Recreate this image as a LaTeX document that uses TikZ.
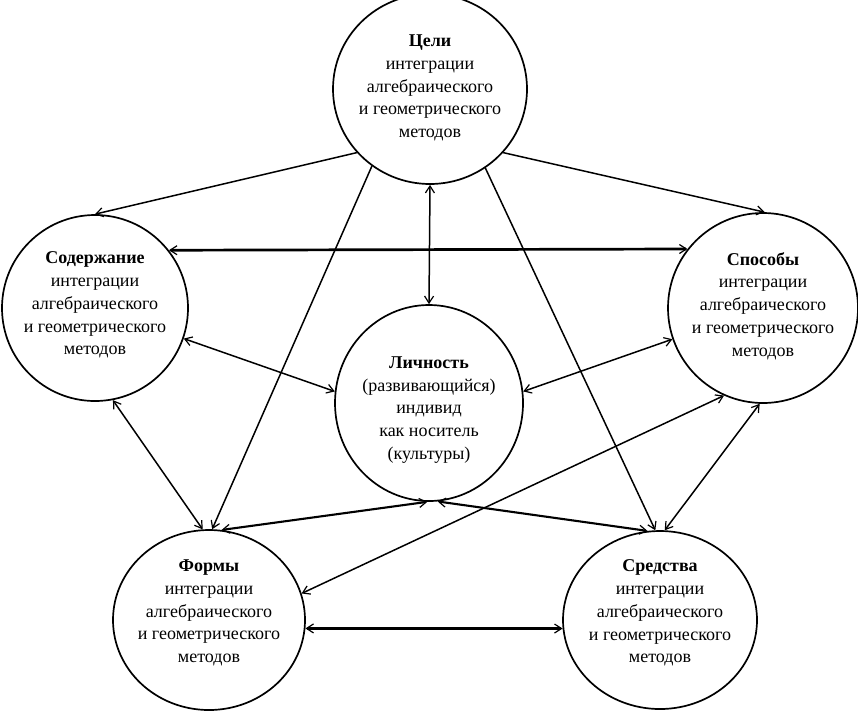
\documentclass[tikz,border=0pt]{standalone}
\usepackage{fontspec}
\setmainfont{Liberation Serif}
\usetikzlibrary{shapes.geometric,arrows.meta}
\begin{document}
\begin{tikzpicture}[x=1pt,y=-1pt,
  ring/.style={draw, ellipse, line width=1.7pt, inner sep=0pt},
  lbl/.style={align=center, inner sep=0pt, font=\fontsize{18}{22.8}\selectfont},
  barb/.tip={Straight Barb[length=7pt,width=9pt,line width=1.2pt]},
  one/.style={line width=1.5pt, -barb},
  two/.style={line width=1.5pt, barb-barb},
  heavy/.style={line width=2.7pt, barb-barb}]
\useasboundingbox (0,0) rectangle (858,716);
\node[ring, minimum width=194pt, minimum height=190pt] (T) at (430,89) {};
\node[ring, minimum width=186pt, minimum height=186pt] (L) at (95,308) {};
\node[ring, minimum width=190pt, minimum height=190pt] (R) at (763,308) {};
\node[ring, minimum width=188pt, minimum height=196pt] (C) at (429,403) {};
\node[ring, minimum width=192pt, minimum height=180pt] (BL) at (209,620) {};
\node[ring, minimum width=194pt, minimum height=178pt] (BR) at (660,620) {};
\node[lbl] (Tt) at (430,88) {\textbf{Цели}\\интеграции\\алгебраического\\и геометрического\\методов};
\node[lbl] (Lt) at (95,305) {\textbf{Содержание}\\интеграции\\алгебраического\\и геометрического\\методов};
\node[lbl] (Rt) at (763,306) {\textbf{Способы}\\интеграции\\алгебраического\\и геометрического\\методов};
\node[lbl] (Ct) at (429,410) {\textbf{Личность}\\(развивающийся)\\индивид\\как носитель\\(культуры)};
\node[lbl] (BLt) at (209,613) {\textbf{Формы}\\интеграции\\алгебраического\\и геометрического\\методов};
\node[lbl] (BRt) at (660,613) {\textbf{Средства}\\интеграции\\алгебраического\\и геометрического\\методов};
% connectors
\draw[one] (T.221) -- (L.90);
\draw[one] (T.319) -- (R.89);
\draw[two] (T.270) -- (C.90);
\draw[one] (T.233) -- (BL.88);
\draw[one] (T.305) -- (BR.93);
\draw[heavy] (L.38.6) -- (R.142.4);
\draw[two] (L.341) -- (C.173);
\draw[two] (R.199) -- (C.7);
\draw[two] (L.281) -- (BL.94);
\draw[two] (R.268) -- (BR.87);
\draw[heavy] (BL.-5) -- (BR.185);
\draw[two, line width=2.1pt] (C.269) -- (BL.82);
\draw[two, line width=2.1pt] (C.275) -- (BR.98);
\draw[two] (BL.16) -- (R.246);
\end{tikzpicture}
\end{document}
